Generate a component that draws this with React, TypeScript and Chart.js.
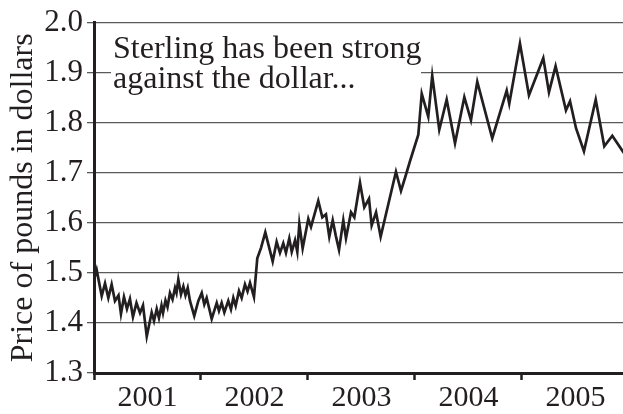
import React, { useEffect, useRef } from "react";
import { Chart, registerables } from "chart.js";

Chart.register(...registerables);

// Decimal-year dates of each observation
const dates: number[] = [
  2001.0, 2001.025, 2001.072, 2001.103, 2001.134, 2001.165, 2001.196, 2001.229, 2001.252, 2001.28,
  2001.308, 2001.336, 2001.364, 2001.397, 2001.43, 2001.458, 2001.493, 2001.539, 2001.561, 2001.586,
  2001.607, 2001.631, 2001.645, 2001.668, 2001.687, 2001.71, 2001.734, 2001.757, 2001.771, 2001.788,
  2001.813, 2001.835, 2001.855, 2001.876, 2001.897, 2001.937, 2001.975, 2002.007, 2002.031, 2002.053,
  2002.1, 2002.147, 2002.168, 2002.193, 2002.218, 2002.255, 2002.28, 2002.302, 2002.324, 2002.355,
  2002.38, 2002.411, 2002.435, 2002.458, 2002.495, 2002.526, 2002.561, 2002.601, 2002.67, 2002.707,
  2002.738, 2002.769, 2002.794, 2002.825, 2002.848, 2002.879, 2002.9, 2002.919, 2002.95, 2003.003,
  2003.028, 2003.096, 2003.134, 2003.168, 2003.199, 2003.231, 2003.259, 2003.29, 2003.33, 2003.355,
  2003.402, 2003.433, 2003.486, 2003.526, 2003.57, 2003.595, 2003.636, 2003.679, 2003.822, 2003.869,
  2003.907, 2003.953, 2004.031, 2004.063, 2004.124, 2004.161, 2004.227, 2004.296, 2004.374, 2004.461,
  2004.523, 2004.582, 2004.722, 2004.857, 2004.881, 2004.981, 2005.065, 2005.199, 2005.252, 2005.314,
  2005.411, 2005.449, 2005.505, 2005.579, 2005.689, 2005.769, 2005.844, 2005.941, 2006.0,
];

// Price of one pound in dollars
const prices: number[] = [
  1.487, 1.506, 1.454, 1.479, 1.45, 1.477, 1.444, 1.455, 1.418, 1.452,
  1.428, 1.448, 1.412, 1.44, 1.42, 1.435, 1.373, 1.421, 1.404, 1.428,
  1.41, 1.435, 1.42, 1.445, 1.432, 1.46, 1.447, 1.47, 1.46, 1.487,
  1.457, 1.473, 1.455, 1.47, 1.444, 1.414, 1.444, 1.46, 1.437, 1.45,
  1.408, 1.44, 1.424, 1.44, 1.421, 1.444, 1.427, 1.45, 1.434, 1.464,
  1.45, 1.477, 1.463, 1.48, 1.452, 1.529, 1.55, 1.581, 1.523, 1.562,
  1.54, 1.559, 1.54, 1.569, 1.542, 1.565, 1.542, 1.598, 1.549, 1.608,
  1.592, 1.644, 1.611, 1.617, 1.572, 1.605, 1.575, 1.546, 1.605, 1.569,
  1.621, 1.611, 1.68, 1.631, 1.648, 1.595, 1.621, 1.572, 1.702, 1.664,
  1.69, 1.723, 1.776, 1.858, 1.812, 1.894, 1.786, 1.846, 1.759, 1.851,
  1.805, 1.882, 1.769, 1.864, 1.838, 1.958, 1.855, 1.929, 1.861, 1.913,
  1.825, 1.843, 1.789, 1.743, 1.846, 1.753, 1.774, 1.743, 1.725,
];

const years: number[] = [2001, 2002, 2003, 2004, 2005];
const yTicks: number[] = [1.3, 1.4, 1.5, 1.6, 1.7, 1.8, 1.9, 2.0];
const annotationLines: string[] = ["Sterling has been strong", "against the dollar..."];
const yTitle = "Price of pounds in dollars";

const FONT = "'Liberation Serif', 'Times New Roman', serif";
const INK = "#231f20";

export default function App() {
  const ref = useRef<HTMLCanvasElement | null>(null);

  useEffect(() => {
    if (!ref.current) return;

    const annotationPlugin = {
      id: "annotationBox",
      beforeDatasetsDraw(chart: any) {
        const { ctx, chartArea } = chart;
        ctx.save();
        ctx.fillStyle = "#ffffff";
        ctx.fillRect(chartArea.left + 17, chartArea.top + 6, 310, 84);
        ctx.fillStyle = INK;
        ctx.font = `32px ${FONT}`;
        ctx.textBaseline = "alphabetic";
        ctx.textAlign = "left";
        annotationLines.forEach((line, i) => {
          ctx.fillText(line, chartArea.left + 19, chartArea.top + 35 + i * 30);
        });
        ctx.restore();
      },
    };

    const chart = new Chart(ref.current, {
      type: "line",
      data: {
        datasets: [
          {
            data: dates.map((d, i) => ({ x: d, y: prices[i] })),
            borderColor: INK,
            borderWidth: 2.7,
            pointRadius: 0,
            tension: 0,
            fill: false,
          },
        ],
      },
      plugins: [annotationPlugin],
      options: {
        animation: false,
        responsive: false,
        devicePixelRatio: 1,
        layout: { padding: { top: 18, right: 0, left: 0, bottom: 0 } },
        plugins: { legend: { display: false }, tooltip: { enabled: false } },
        scales: {
          x: {
            type: "linear",
            min: 2001,
            max: 2005.944,
            afterFit(scale: any) {
              scale.height = 41;
            },
            afterBuildTicks(scale: any) {
              const t: { value: number }[] = [];
              years.forEach((y) => {
                t.push({ value: y });
                t.push({ value: y + 0.5 });
              });
              scale.ticks = t;
            },
            grid: {
              drawOnChartArea: false,
              drawTicks: true,
              tickLength: 7,
              tickWidth: 2.5,
              tickColor: (c: any) =>
                c.tick && Math.abs(c.tick.value % 1) < 1e-6 ? INK : "rgba(0,0,0,0)",
            },
            border: { display: true, color: INK, width: 3 },
            ticks: {
              autoSkip: false,
              maxRotation: 0,
              padding: 0,
              color: INK,
              font: { family: FONT, size: 30 },
              callback: (v: any) => {
                const n = Number(v);
                return Math.abs((n % 1) - 0.5) < 1e-6 ? String(Math.floor(n)) : "";
              },
            },
          },
          y: {
            type: "linear",
            min: 1.3,
            max: 2.0,
            afterFit(scale: any) {
              scale.width = 94;
            },
            afterBuildTicks(scale: any) {
              scale.ticks = yTicks.map((v) => ({ value: v }));
            },
            grid: {
              color: "#5a5a5a",
              lineWidth: 1.3,
              tickLength: 7,
              tickColor: "#5a5a5a",
            },
            border: { display: true, color: INK, width: 3 },
            ticks: {
              padding: 4,
              color: INK,
              font: { family: FONT, size: 31 },
              callback: (v: any) => Number(v).toFixed(1),
            },
            title: {
              display: true,
              text: yTitle,
              color: INK,
              font: { family: FONT, size: 32 },
              padding: { top: 4, bottom: 0 },
            },
          },
        },
      },
    } as any);

    return () => chart.destroy();
  }, []);

  return (
    <div style={{ position: "fixed", left: 0, top: 0, width: 623, height: 414, background: "#fff" }}>
      <canvas ref={ref} width={623} height={414} style={{ width: 623, height: 414, display: "block" }} />
    </div>
  );
}
